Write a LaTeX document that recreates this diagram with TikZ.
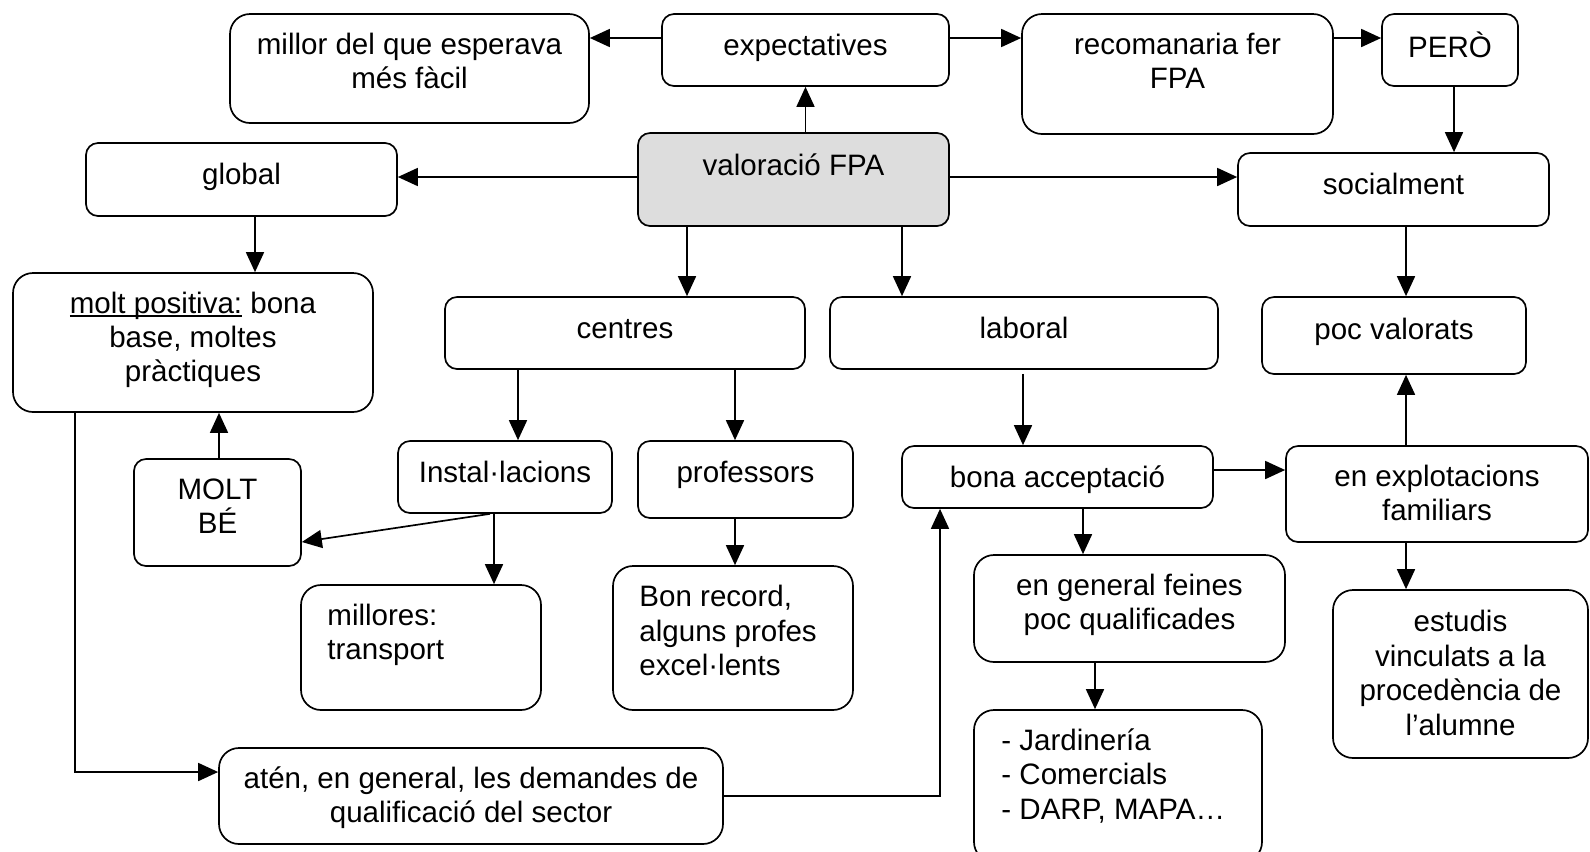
\documentclass[tikz,border=0pt]{standalone}
\usepackage{fontspec}
\setmainfont{Liberation Sans}
\usetikzlibrary{arrows.meta,fit}
\definecolor{rootfill}{RGB}{221,221,221}
\newcommand\ulin[1]{\setbox0\hbox{#1}\rlap{\rule[-2.6pt]{\wd0}{1.1pt}}\box0\relax}
\tikzset{
  arrow/.style={-{Triangle[length=0.5cm,width=0.45cm]},line width=1.2pt},
  box/.style={draw,line width=1.2pt,rounded corners=0.3cm,inner sep=0pt},
  bigbox/.style={box,rounded corners=0.5cm},
  txt/.style={inner sep=0pt,font=\fontsize{21}{24.5}\selectfont,align=center,
    anchor=north,execute at begin node=\strut},
  txtl/.style={txt,align=left,anchor=north west}
}
\begin{document}
\begin{tikzpicture}[x=0.025cm,y=-0.025cm]
  \useasboundingbox (0,0) rectangle (1590,851);

  % top row
  \node[bigbox,fit={(230,14)(589,123)}] (millor) {};
  \node[txt] (millorT) at ([yshift=-0.48cm]millor.north) {millor del que esperava\\més fàcil};
  \node[box,fit={(662,14)(949,86)}] (exp) {};
  \node[txt] (expT) at ([yshift=-0.45cm]exp.north) {expectatives};
  \node[bigbox,fit={(1022,14)(1333,134)}] (recom) {};
  \node[txt] (recomT) at ([yshift=-0.48cm]recom.north) {recomanaria fer\\FPA};
  \node[box,fit={(1382,14)(1518,86)}] (pero) {};
  \node[txt] (peroT) at ([yshift=-0.45cm]pero.north) {PERÒ};

  % second row
  \node[box,fit={(86,143)(397,216)}] (glob) {};
  \node[txt] (globT) at ([yshift=-0.45cm]glob.north) {global};
  \node[box,fill=rootfill,fit={(638,133)(949,226)}] (val) {};
  \node[txt] (valT) at ([yshift=-0.48cm]val.north) {valoració FPA};
  \node[box,fit={(1238,153)(1549,226)}] (soc) {};
  \node[txt] (socT) at ([yshift=-0.45cm]soc.north) {socialment};

  % third row
  \node[bigbox,fit={(13,273)(373,412)}] (molt) {};
  \node[txt] (moltT) at ([yshift=-0.48cm]molt.north) {\ulin{molt positiva:} bona\\base, moltes\\pràctiques};
  \node[box,fit={(445,297)(805,369)}] (cen) {};
  \node[txt] (cenT) at ([yshift=-0.45cm]cen.north) {centres};
  \node[box,fit={(830,297)(1218,369)}] (lab) {};
  \node[txt] (labT) at ([yshift=-0.45cm]lab.north) {laboral};
  \node[box,fit={(1262,297)(1526,374)}] (poc) {};
  \node[txt] (pocT) at ([yshift=-0.48cm]poc.north) {poc valorats};

  % fourth row
  \node[box,fit={(134,459)(301,566)}] (moltbe) {};
  \node[txt] (moltbeT) at ([yshift=-0.5cm]moltbe.north) {MOLT\\BÉ};
  \node[box,fit={(398,441)(612,513)}] (inst) {};
  \node[txt] (instT) at ([yshift=-0.45cm]inst.north) {Instal·lacions};
  \node[box,fit={(638,441)(853,518)}] (prof) {};
  \node[txt] (profT) at ([yshift=-0.45cm]prof.north) {professors};
  \node[box,fit={(902,446)(1213,508)}] (bona) {};
  \node[txt] (bonaT) at ([yshift=-0.45cm]bona.north) {bona acceptació};
  \node[box,fit={(1286,446)(1588,542)}] (expl) {};
  \node[txt] (explT) at ([yshift=-0.48cm]expl.north) {en explotacions\\familiars};

  % fifth row
  \node[bigbox,fit={(301,585)(541,710)}] (millores) {};
  \node[txtl] (milloresT) at ([xshift=0.675cm,yshift=-0.48cm]millores.north west) {millores:\\transport};
  \node[bigbox,fit={(613,566)(853,710)}] (bon) {};
  \node[txtl] (bonT) at ([xshift=0.675cm,yshift=-0.5cm]bon.north west) {Bon record,\\alguns profes\\excel·lents};
  \node[bigbox,fit={(974,555)(1285,662)}] (engen) {};
  \node[txt] (engenT) at ([yshift=-0.48cm]engen.north) {en general feines\\poc qualificades};
  \node[bigbox,fit={(1333,590)(1588,758)}] (estudis) {};
  \node[txt] (estudisT) at ([yshift=-0.52cm]estudis.north) {estudis\\vinculats a la\\procedència de\\l’alumne};

  % bottom row
  \node[bigbox,fit={(219,748)(723,844)}] (aten) {};
  \node[txt] (atenT) at ([yshift=-0.48cm]aten.north) {atén, en general, les demandes de\\qualificació del sector};
  \node[bigbox,fit={(974,710)(1262,862)}] (jard) {};
  \node[txtl] (jardT) at ([xshift=0.7cm,yshift=-0.48cm]jard.north west) {- Jardinería\\- Comercials\\- DARP, MAPA…};

  % connectors
  \draw[arrow] (val.north -| exp.south) -- (exp.south);
  \draw[arrow] (exp.west |- 0,38) -- (millor.east |- 0,38);
  \draw[arrow] (exp.east |- 0,38) -- (recom.west |- 0,38);
  \draw[arrow] (recom.east |- 0,38) -- (pero.west |- 0,38);
  \draw[arrow] (1454,0 |- pero.south) -- (1454,0 |- soc.north);
  \draw[arrow] (val.west |- 0,177) -- (glob.east |- 0,177);
  \draw[arrow] (val.east |- 0,177) -- (soc.west |- 0,177);
  \draw[arrow] (255,0 |- glob.south) -- (255,0 |- molt.north);
  \draw[arrow] (687,0 |- val.south) -- (687,0 |- cen.north);
  \draw[arrow] (902,0 |- val.south) -- (902,0 |- lab.north);
  \draw[arrow] (518,0 |- cen.south) -- (518,0 |- inst.north);
  \draw[arrow] (735,0 |- cen.south) -- (735,0 |- prof.north);
  \draw[arrow] (219,0 |- moltbe.north) -- (219,0 |- molt.south);
  \draw[arrow] (490,0 |- inst.south) -- (moltbe.east |- 0,542);
  \draw[arrow] (494,0 |- inst.south) -- (494,0 |- millores.north);
  \draw[arrow] (735,0 |- prof.south) -- (735,0 |- bon.north);
  \draw[arrow,shorten <=0.1cm] (1023,0 |- lab.south) -- (1023,0 |- bona.north);
  \draw[arrow] (bona.east |- 0,470) -- (expl.west |- 0,470);
  \draw[arrow] (1083,0 |- bona.south) -- (1083,0 |- engen.north);
  \draw[arrow] (1095,0 |- engen.south) -- (1095,0 |- jard.north);
  \draw[arrow] (1406,0 |- soc.south) -- (1406,0 |- poc.north);
  \draw[arrow] (1406,0 |- expl.north) -- (1406,0 |- poc.south);
  \draw[arrow] (1406,0 |- expl.south) -- (1406,0 |- estudis.north);
  \draw[arrow] (75,0 |- molt.south) |- (aten.west |- 0,772);
  \draw[arrow] (aten.east |- 0,796) -| (940,0 |- bona.south);
\end{tikzpicture}
\end{document}
